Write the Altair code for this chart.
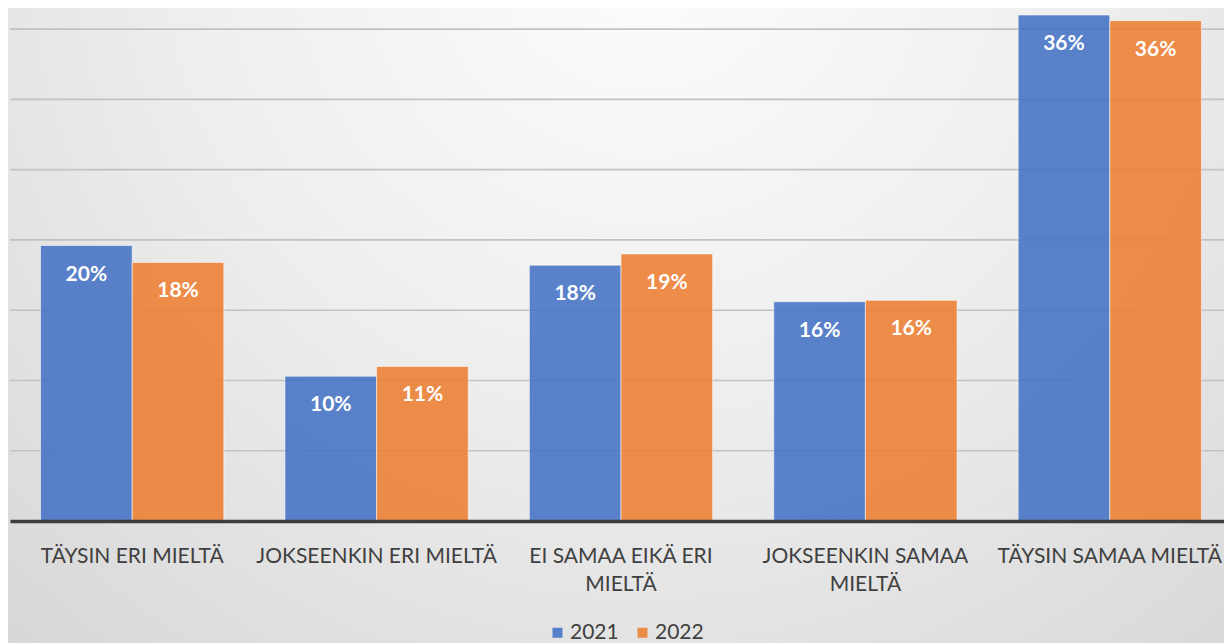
import altair as alt
import pandas as pd

# ---- data ----
categories = [
    "TÄYSIN ERI MIELTÄ",
    "JOKSEENKIN ERI MIELTÄ",
    "EI SAMAA EIKÄ ERI MIELTÄ",
    "JOKSEENKIN SAMAA MIELTÄ",
    "TÄYSIN SAMAA MIELTÄ",
]
category_lines = [
    ["TÄYSIN ERI MIELTÄ"],
    ["JOKSEENKIN ERI MIELTÄ"],
    ["EI SAMAA EIKÄ ERI", "MIELTÄ"],
    ["JOKSEENKIN SAMAA", "MIELTÄ"],
    ["TÄYSIN SAMAA MIELTÄ"],
]
years = ["2021", "2022"]
values_2021 = [19.6, 10.3, 18.2, 15.6, 36.0]
values_2022 = [18.4, 11.0, 19.0, 15.7, 35.6]
grid_values = [5, 10, 15, 20, 25, 30, 35]
colors = ["#4472C4", "#ED7D31"]

rows = []
for c, v in zip(categories, values_2021):
    rows.append({"cat": c, "year": "2021", "pct": v})
for c, v in zip(categories, values_2022):
    rows.append({"cat": c, "year": "2022", "pct": v})
df = pd.DataFrame(rows)
grid_df = pd.DataFrame({"pct": grid_values})
bg_df = pd.DataFrame({"k": [0]})

W, H = 1214, 513
XR = 1222
FONT = "Lato"

# label expression for multi-line category labels
parts = []
for c, lines in zip(categories, category_lines):
    if len(lines) > 1:
        arr = "[" + ",".join("'" + l + "'" for l in lines) + "]"
        parts.append(f"datum.label == '{c}' ? {arr}")
label_expr = " : ".join(parts) + " : datum.label"

y_scale = alt.Scale(domain=[0, 36.5], nice=False, zero=True)
x_scale = alt.Scale(paddingInner=0.25, paddingOuter=0.125, range=[0, XR])
x_enc = alt.X(
    "cat:N",
    sort=categories,
    scale=x_scale,
    axis=alt.Axis(
        title=None,
        labelAngle=0,
        labelFont=FONT,
        labelFontSize=21,
        labelColor="#404040",
        labelPadding=24,
        labelLineHeight=28.5,
        labelLimit=400,
        labelExpr=label_expr,
        ticks=False,
        tickSize=0,
        grid=False,
        domain=True,
        domainWidth=3.5,
        domainColor="#3d3d3d",
        zindex=1,
    ),
)

gradient = alt.RadialGradient(
    gradient="radial",
    stops=[
        alt.GradientStop(offset=0, color="#fdfdfd"),
        alt.GradientStop(offset=0.45, color="#eeeeee"),
        alt.GradientStop(offset=1, color="#d3d3d3"),
    ],
    x1=0.52, y1=0.18, r1=0,
    x2=0.52, y2=0.18, r2=0.85,
)

background = alt.Chart(bg_df).mark_rect(fill=gradient, stroke=None).encode(
    x=alt.value(-2), x2=alt.value(XR), y=alt.value(0), y2=alt.value(640)
)

grid = alt.Chart(grid_df).mark_rule(color="#c2c2c2", strokeWidth=1.6).encode(
    y=alt.Y("pct:Q", scale=y_scale, axis=None),
    x=alt.value(0),
    x2=alt.value(XR),
)

bars = alt.Chart(df).mark_bar(
    fillOpacity=0.88, stroke="#ffffff", strokeOpacity=0.55, strokeWidth=1
).encode(
    x=x_enc,
    xOffset=alt.XOffset("year:N", sort=years, scale=alt.Scale(paddingInner=0, paddingOuter=0)),
    y=alt.Y("pct:Q", scale=y_scale, axis=None),
    color=alt.Color(
        "year:N",
        sort=years,
        scale=alt.Scale(domain=years, range=colors),
        legend=alt.Legend(
            title=None,
            orient="none",
            direction="horizontal",
            legendX=537,
            legendY=614,
            symbolType="square",
            symbolSize=100,
            symbolOpacity=0.88,
            symbolStrokeWidth=0,
            labelFont=FONT,
            labelFontSize=21,
            labelColor="#404040",
            labelOffset=2,
            columnPadding=13,
            padding=0,
        ),
    ),
)

labels = alt.Chart(df).transform_calculate(
    label="format(datum.pct, '.0f') + '%'"
).mark_text(
    font=FONT, fontSize=21, fontWeight="bold", color="#ffffff",
    baseline="alphabetic", dy=35, align="center"
).encode(
    x=alt.X("cat:N", sort=categories, scale=x_scale),
    xOffset=alt.XOffset("year:N", sort=years),
    y=alt.Y("pct:Q", scale=y_scale, axis=None),
    text="label:N",
)

chart = alt.layer(background, grid, bars, labels).properties(
    width=W,
    height=H,
    autosize=alt.AutoSizeParams(type="none"),
    padding={"left": 2, "top": 0, "right": 0, "bottom": 122},
    background="#e2e2e2",
).configure_view(stroke=None)

chart.save("out.html", embed_options={"renderer": "svg", "actions": False})
